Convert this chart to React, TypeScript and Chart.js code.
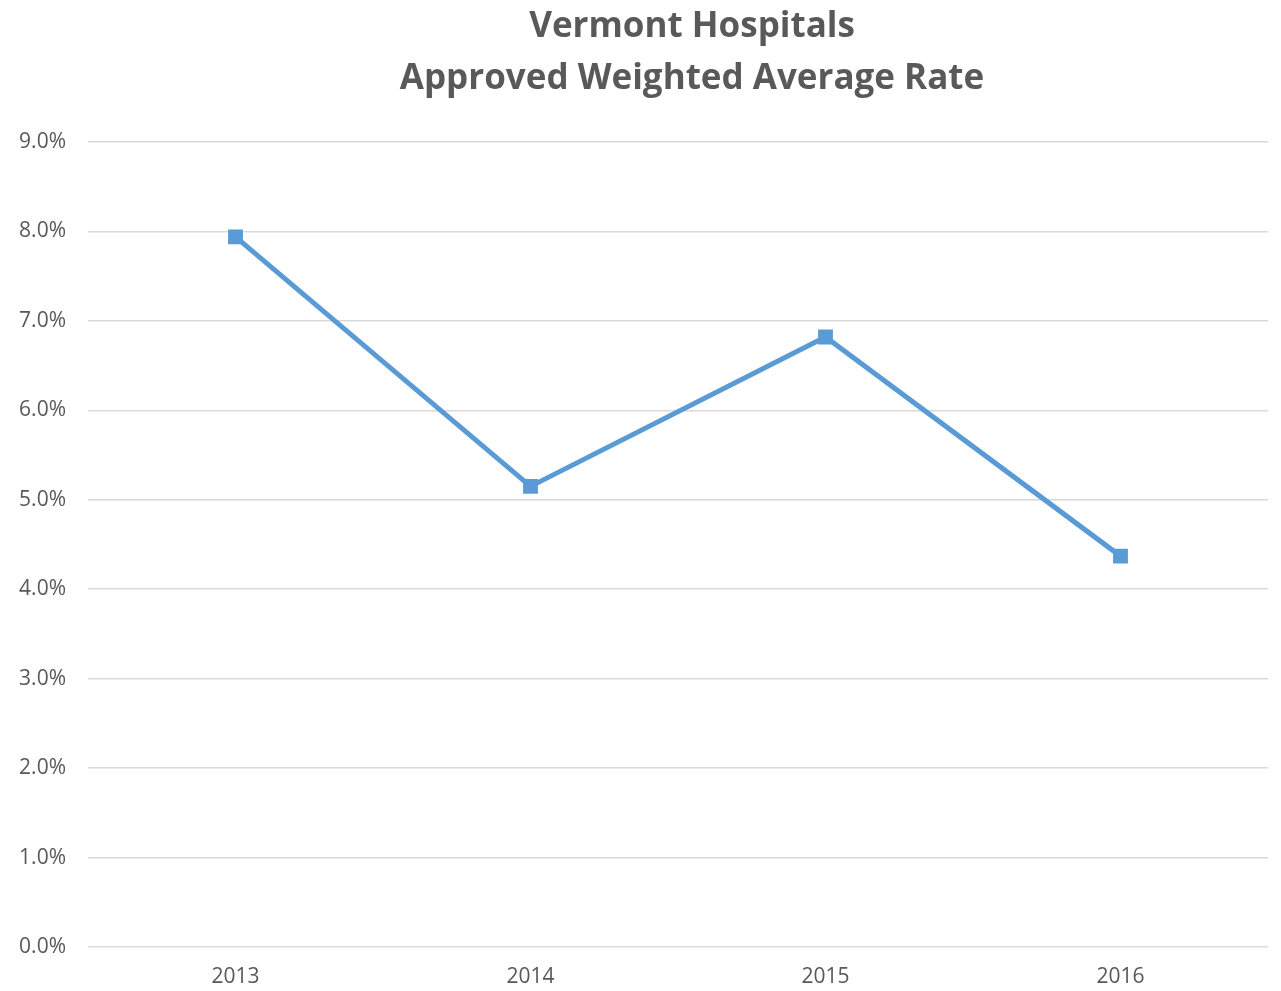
import React, { useEffect, useRef } from "react";
import { Chart, registerables } from "chart.js";

Chart.register(...registerables);

const titleLines = ["Vermont Hospitals", "Approved Weighted Average Rate"];
const years = ["2013", "2014", "2015", "2016"];
const rates = [7.94, 5.15, 6.82, 4.37];
const yMin = 0;
const yMax = 9;
const yStep = 1;

const GRAY = "#595959";
const FONT = "'Open Sans', 'Liberation Sans', sans-serif";

const titlePlugin = {
  id: "customTitle",
  afterDraw(chart: any) {
    const { ctx } = chart;
    ctx.save();
    ctx.fillStyle = GRAY;
    ctx.font = `bold 35px ${FONT}`;
    ctx.textAlign = "center";
    ctx.textBaseline = "alphabetic";
    ctx.fillText(titleLines[0], 692, 37);
    ctx.fillText(titleLines[1], 692, 89);
    ctx.restore();
  },
};

export default function App() {
  const ref = useRef<HTMLCanvasElement | null>(null);
  useEffect(() => {
    if (!ref.current) return;
    const chart = new Chart(ref.current, {
      type: "line",
      data: {
        labels: years,
        datasets: [
          {
            data: rates,
            borderColor: "#5B9BD5",
            backgroundColor: "#5B9BD5",
            borderWidth: 5,
            pointStyle: "rect",
            pointRadius: 10.5,
            pointHoverRadius: 10.5,
            pointBorderWidth: 0,
            tension: 0,
            fill: false,
          },
        ],
      },
      options: {
        responsive: false,
        animation: false,
        layout: { padding: { top: 142, right: 13, bottom: 0, left: 0 } },
        plugins: {
          legend: { display: false },
          title: { display: false },
          tooltip: { enabled: false },
        },
        scales: {
          x: {
            offset: true,
            grid: { display: false, drawTicks: false },
            border: { display: false },
            ticks: {
              color: GRAY,
              font: { family: FONT, size: 21 },
              padding: 17,
            },
            afterFit(scale: any) {
              scale.height = 44;
            },
          },
          y: {
            min: yMin,
            max: yMax,
            grid: { color: "#D9D9D9", lineWidth: 1.5, drawTicks: false },
            border: { display: false },
            ticks: {
              stepSize: yStep,
              color: GRAY,
              font: { family: FONT, size: 21 },
              padding: 22,
              callback: (v: any) => Number(v).toFixed(1) + "%",
            },
            afterFit(scale: any) {
              scale.width = 88;
            },
          },
        },
      },
      plugins: [titlePlugin],
    });
    return () => chart.destroy();
  }, []);
  return (
    <div style={{ position: "fixed", left: 0, top: 0, width: 1281, height: 991, background: "#fff" }}>
      <canvas ref={ref} width={1281} height={991} style={{ display: "block" }} />
    </div>
  );
}
